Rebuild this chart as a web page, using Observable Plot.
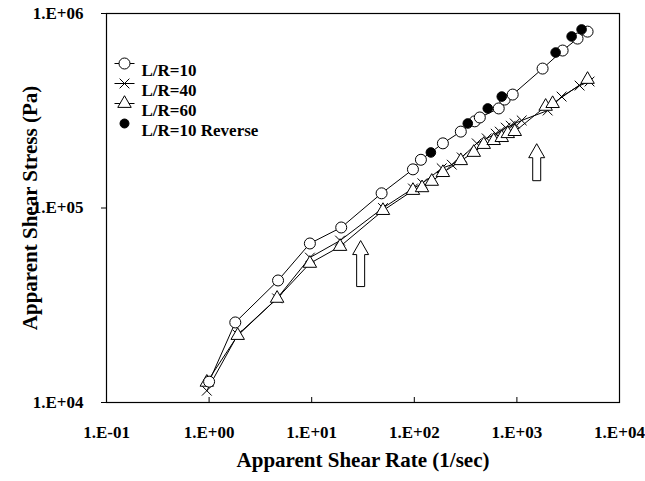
<!DOCTYPE html>
<html><head><meta charset="utf-8">
<script src="https://cdn.jsdelivr.net/npm/d3@7"></script>
<script src="https://cdn.jsdelivr.net/npm/@observablehq/plot@0.6"></script>
<style>body{margin:0;background:#fff}#chart{position:relative;width:645px;height:481px}</style>
</head><body><div id="chart"></div>
<script>
// ---- data ----
const lr10Rate   = [1.0, 1.8, 4.7, 9.6, 19.4, 48, 97, 116, 190, 284, 388, 435, 665, 760, 910, 1780, 2790, 3900, 4885];
const lr10Stress = [12800, 25800, 42400, 65700, 79400, 119000, 158000, 177000, 215000, 247000, 279000, 292000, 325000, 361000, 383000, 521000, 645000, 743000, 807000];

const lr10RevRate   = [145, 332, 520, 712, 2385, 3415, 4270];
const lr10RevStress = [193000, 272000, 325000, 374000, 630000, 762000, 828000];

const lr40Rate   = [0.95, 1.9, 4.6, 9.6, 18.9, 49.5, 97, 120, 185, 232, 290, 406, 508, 622, 681, 778, 871, 953, 1114, 1995, 2727, 4084, 5107];
const lr40Stress = [11500, 22300, 34300, 55600, 68000, 100000, 126000, 134000, 160000, 167000, 182000, 215000, 228000, 241000, 247000, 259000, 265000, 272000, 282000, 317000, 374000, 426000, 447000];

const lr60Rate   = [0.95, 1.9, 4.6, 9.6, 18.9, 49.5, 97, 119, 148, 190, 284, 380, 475, 594, 712, 815, 953, 1906, 2230, 4885];
const lr60Stress = [12700, 22100, 34300, 51900, 63400, 97000, 123000, 127000, 137000, 152000, 175000, 193000, 212000, 222000, 230000, 241000, 247000, 333000, 344000, 458000];

const arrowRate   = [30, 1560];
const arrowStress = [51800, 172000];

const xTickValues = [0.1, 1, 10, 100, 1000, 10000];
const xTickLabels = ["1.E-01", "1.E+00", "1.E+01", "1.E+02", "1.E+03", "1.E+04"];
const yTickValues = [1e4, 1e5, 1e6];
const yTickLabels = ["1.E+04", "1.E+05", "1.E+06"];

const legendLabels = ["L/R=10", "L/R=40", "L/R=60", "L/R=10 Reverse"];
const xTitle = "Apparent Shear Rate (1/sec)";
const yTitle = "Apparent Shear Stress (Pa)";

// ---- build tables ----
const zip = (xs, ys) => xs.map((x, i) => ({x, y: ys[i]}));
const s10 = zip(lr10Rate, lr10Stress);
const s10r = zip(lr10RevRate, lr10RevStress);
const s40 = zip(lr40Rate, lr40Stress);
const s60 = zip(lr60Rate, lr60Stress);
const arrows = zip(arrowRate, arrowStress);

// ---- custom symbols ----
function arrowSymbol(L) {
  return {draw(ctx) {
    const h = L / 2, hw = 8, sw = 4, hh = 14;
    ctx.moveTo(0, -h);
    ctx.lineTo(hw, -h + hh);
    ctx.lineTo(sw, -h + hh);
    ctx.lineTo(sw, h);
    ctx.lineTo(-sw, h);
    ctx.lineTo(-sw, -h + hh);
    ctx.lineTo(-hw, -h + hh);
    ctx.closePath();
  }};
}
const segSymbol = {draw(ctx) { ctx.moveTo(-10, 0); ctx.lineTo(10, 0); }};

const fmtX = d => xTickLabels[xTickValues.indexOf(d)];
const fmtY = d => yTickLabels[yTickValues.indexOf(d)];

const legendStyles = [
  {symbol: "circle", fill: "white", r: 5.5, line: true},
  {symbol: "times", fill: "none", r: 4.5, line: true},
  {symbol: "triangle", fill: "white", r: 5, line: true},
  {symbol: "circle", fill: "black", r: 4.5, line: false}
];
const legendMarks = legendLabels.flatMap((label, i) => {
  const st = legendStyles[i];
  const dx = 18, dy = 50 + i * 20;
  const m = [];
  if (st.line) m.push(Plot.dot([0], {frameAnchor: "top-left", dx, dy, symbol: segSymbol, stroke: "black", strokeWidth: 1}));
  m.push(Plot.dot([0], {frameAnchor: "top-left", dx, dy, symbol: st.symbol, r: st.r, fill: st.fill, stroke: "black", strokeWidth: 1}));
  m.push(Plot.text([label], {frameAnchor: "top-left", dx: dx + 17, dy, text: d => d, textAnchor: "start", fontSize: 17, fontWeight: "bold"}));
  return m;
});

const chart = Plot.plot({
  width: 645,
  height: 481,
  marginLeft: 106,
  marginRight: 26,
  marginTop: 13,
  marginBottom: 79,
  style: {fontFamily: "'Liberation Serif', 'Times New Roman', serif", fontWeight: "bold", fontSize: "17px", color: "black", background: "white"},
  x: {type: "log", domain: [0.1, 10000]},
  y: {type: "log", domain: [1e4, 1e6]},
  marks: [
    Plot.frame({stroke: "black", strokeWidth: 1.2}),
    Plot.axisX({ticks: xTickValues, tickSize: -5, tickFormat: () => "", label: null}),
    Plot.axisX({ticks: xTickValues, tickSize: 0, tickPadding: 23, tickFormat: fmtX, label: null, fontSize: 17}),
    Plot.axisY({ticks: yTickValues, tickSize: 5, tickPadding: 18, tickFormat: fmtY, label: null, fontSize: 17}),
    Plot.line(s40, {x: "x", y: "y", stroke: "black", strokeWidth: 1}),
    Plot.line(s60, {x: "x", y: "y", stroke: "black", strokeWidth: 1}),
    Plot.line(s10, {x: "x", y: "y", stroke: "black", strokeWidth: 1}),
    Plot.dot(s40, {x: "x", y: "y", symbol: "times", r: 4.5, stroke: "black", strokeWidth: 1}),
    Plot.dot(s60, {x: "x", y: "y", symbol: "triangle", r: 5, fill: "white", stroke: "black", strokeWidth: 1}),
    Plot.dot(s10, {x: "x", y: "y", symbol: "circle", r: 5.5, fill: "white", stroke: "black", strokeWidth: 1}),
    Plot.dot(s10r, {x: "x", y: "y", symbol: "circle", r: 4.8, fill: "black", stroke: "black", strokeWidth: 1}),
    Plot.dot(arrows.slice(0, 1), {x: "x", y: "y", symbol: arrowSymbol(46), r: 10, fill: "white", stroke: "black", strokeWidth: 1}),
    Plot.dot(arrows.slice(1, 2), {x: "x", y: "y", symbol: arrowSymbol(37), r: 10, fill: "white", stroke: "black", strokeWidth: 1}),
    ...legendMarks,
    Plot.text([xTitle], {frameAnchor: "bottom", dy: 64, text: d => d, fontSize: 21, fontWeight: "bold"}),
    Plot.text([yTitle], {frameAnchor: "left", dx: -76, rotate: -90, textAnchor: "middle", text: d => d, fontSize: 21, fontWeight: "bold"})
  ]
});
document.getElementById("chart").appendChild(chart);
</script>
</body></html>
